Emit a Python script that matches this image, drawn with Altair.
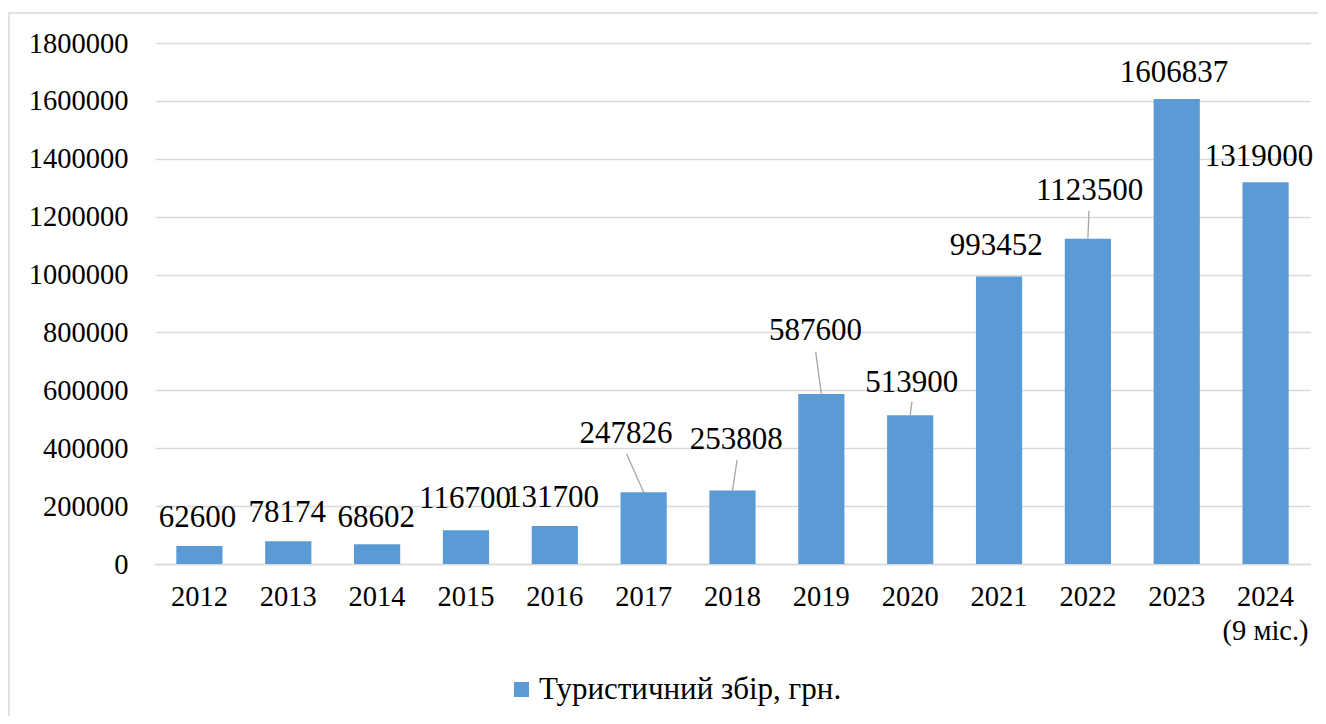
import altair as alt
import pandas as pd

# ---- data ----
years = ["2012", "2013", "2014", "2015", "2016", "2017", "2018",
         "2019", "2020", "2021", "2022", "2023", "2024 (9 міс.)"]
values = [62600, 78174, 68602, 116700, 131700, 247826, 253808,
          587600, 513900, 993452, 1123500, 1606837, 1319000]
series_name = "Туристичний збір, грн."
y_ticks = [0, 200000, 400000, 600000, 800000, 1000000, 1200000, 1400000, 1600000, 1800000]

# data-label anchors (baseline, in value units) and horizontal shifts (in category units)
label_y = [128900, 146100, 128900, 192400, 198000, 417000, 396300,
           773900, 595300, 1067600, 1257600, 1666300, 1375100]
label_shift = [-0.022, -0.011, -0.011, -0.011, -0.026, -0.199, 0.043,
               -0.066, 0.017, -0.032, 0.020, -0.032, -0.074]

# leader lines: category index, start shift, start value
leader_idx = [5, 6, 7, 8, 10]
leader_shift = [-0.191, 0.051, -0.064, 0.020, 0.012]
leader_y = [380000, 359300, 733500, 560700, 1220600]

FONT = "Times New Roman, Liberation Serif, DejaVu Serif, serif"
BLUE = "#5B9BD5"
GRID = "#D9D9D9"

bars_df = pd.DataFrame({"year": years, "value": values, "series": [series_name] * len(years)})
labels_df = pd.DataFrame({
    "pos": [i + s for i, s in enumerate(label_shift)],
    "ly": label_y,
    "text": [str(v) for v in values],
})
lead_df = pd.DataFrame({
    "x0": [i + s for i, s in zip(leader_idx, leader_shift)],
    "y0": leader_y,
    "x1": leader_idx,
    "y1": [values[i] for i in leader_idx],
})

yscale = alt.Scale(domain=[0, 1800000], nice=False)
qx = alt.Scale(domain=[-0.5, len(years) - 0.5], nice=False, zero=False)
yaxis = alt.Axis(values=y_ticks, format="d", ticks=False, domain=False, labelPadding=27,
                 labelFont=FONT, labelFontSize=28.5, labelColor="#000",
                 gridColor=GRID, gridWidth=1.5, title=None)

split_expr = ("indexof(datum.label, ' (') > 0 ? "
              "[substring(datum.label, 0, indexof(datum.label, ' (')), "
              "substring(datum.label, indexof(datum.label, ' (') + 1)] : datum.label")

bars = alt.Chart(bars_df).mark_bar(color=BLUE).encode(
    x=alt.X("year:N", sort=years,
            scale=alt.Scale(paddingInner=0.48, paddingOuter=0.24),
            axis=alt.Axis(labelAngle=0, ticks=False, domainColor=GRID, domainWidth=1.5,
                          labelPadding=18, labelExpr=split_expr,
                          labelFont=FONT, labelFontSize=28.5, labelColor="#000",
                          labelBaseline="top", labelLineHeight=34, title=None, grid=False)),
    y=alt.Y("value:Q", scale=yscale, axis=yaxis),
    color=alt.Color("series:N", scale=alt.Scale(range=[BLUE]),
                    legend=alt.Legend(title=None, orient="none", legendX=351, legendY=631,
                                      symbolType="square", symbolSize=225, symbolStrokeWidth=0,
                                      labelFont=FONT, labelFontSize=31, labelColor="#000",
                                      labelOffset=2, labelLimit=800, padding=0)),
)

leaders = alt.Chart(lead_df).mark_rule(color="#A6A6A6", strokeWidth=1.3).encode(
    x=alt.X("x0:Q", scale=qx, axis=None),
    x2="x1:Q",
    y=alt.Y("y0:Q", scale=yscale, axis=yaxis),
    y2="y1:Q",
)

labels = alt.Chart(labels_df).mark_text(font=FONT, fontSize=31, color="#000",
                                        align="center", baseline="alphabetic").encode(
    x=alt.X("pos:Q", scale=qx, axis=None),
    y=alt.Y("ly:Q", scale=yscale, axis=yaxis),
    text="text:N",
)

border = alt.Chart(pd.DataFrame({"a": [0]})).mark_rect(
    fill="transparent", stroke=GRID, strokeWidth=1.5).encode(
    x=alt.value(-146), x2=alt.value(1300), y=alt.value(-30), y2=alt.value(720))

chart = alt.layer(bars, leaders, labels, border).resolve_scale(x="independent").properties(
    width=1155, height=521,
    autosize=alt.AutoSizeParams(type="none"),
    padding={"left": 147, "top": 35, "right": 8, "bottom": 152},
).configure_view(strokeWidth=0)

chart.save("out.html", embed_options={"renderer": "svg", "actions": False})
